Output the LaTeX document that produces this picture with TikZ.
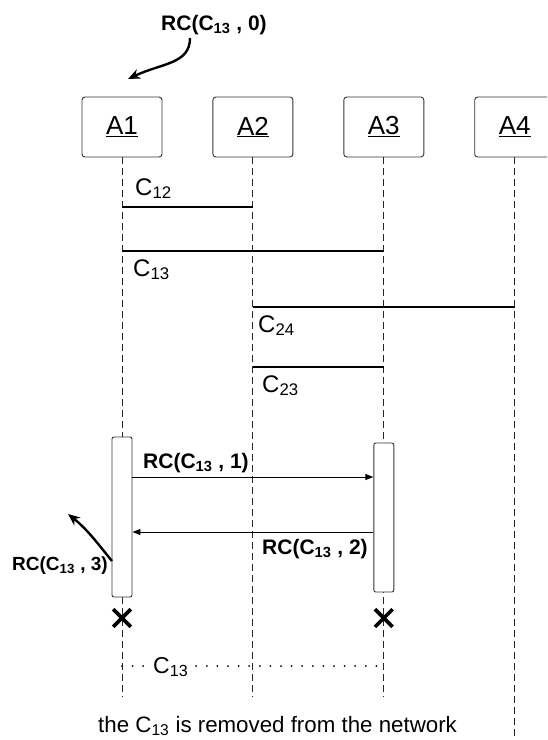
\documentclass[tikz,border=0pt]{standalone}
\usepackage{fontspec}
\setmainfont{Liberation Sans}
\usetikzlibrary{arrows.meta, positioning, shapes.misc}

\begin{document}
\begin{tikzpicture}[
        x=1pt, y=-1pt,
        head/.style={draw=black!80, line width=0.9pt, rounded corners=3pt, minimum width=80pt, minimum height=60pt, inner sep=0pt, font=\fontsize{26}{30}\selectfont},
        life/.style={draw=black!85, dash pattern=on 7pt off 4pt, line width=0.9pt},
        chan/.style={line width=2.8pt},
        clabel/.style={inner sep=0pt, anchor=base west, font=\fontsize{24}{28}\selectfont},
        rclabel/.style={inner sep=0pt, anchor=base west, font=\fontsize{21}{25}\selectfont\bfseries},
        act/.style={draw=black!80, line width=0.9pt, fill=white, rounded corners=2pt, minimum width=20pt, inner sep=0pt},
        msg/.style={line width=0.9pt, -{Triangle[length=8pt, width=6pt]}},
        note/.style={line width=2.4pt, -{Stealth[length=12pt, width=10pt]}},
        kill/.style={draw, cross out, line width=3.6pt, minimum size=14pt, inner sep=0pt},
        dots/.style={line width=2pt, line cap=round, dash pattern=on 0pt off 10.6pt},
        node distance=50pt
        ]
        \clip (0,0) rectangle (547,740);
        % actors
        \node[head] (a1) at (122,127) {\underline{A1}};
        \node[head, right=of a1] (a2) {\underline{A2}};
        \node[head, right=of a2] (a3) {\underline{A3}};
        \node[head, right=of a3] (a4) {\underline{A4}};
        % lifelines
        \coordinate (bot) at (0,697);
        \coordinate (far) at (0,745);
        \draw[life] (a1.south) -- (a1.south |- bot);
        \draw[life] (a2.south) -- (a2.south |- bot);
        \draw[life] (a3.south) -- (a3.south |- bot);
        \draw[life] (a4.south) -- (a4.south |- far);
        % channels
        \coordinate (y12) at (0,207);
        \coordinate (y13) at (0,251);
        \coordinate (y24) at (0,307);
        \coordinate (y23) at (0,367);
        \draw[chan] (a1 |- y12) -- (a2 |- y12);
        \draw[chan] (a1 |- y13) -- (a3 |- y13);
        \draw[chan] (a2 |- y24) -- (a4 |- y24);
        \draw[chan] (a2 |- y23) -- (a3 |- y23);
        \node[clabel] (l12) at (135,195) {C\textsubscript{12}};
        \node[clabel] (l13) at (133,276) {C\textsubscript{13}};
        \node[clabel] (l24) at (258,332) {C\textsubscript{24}};
        \node[clabel] (l23) at (262,392) {C\textsubscript{23}};
        % activations
        \node[act, minimum height=160pt] (b1) at (a1 |- 0,517) {};
        \node[act, minimum height=149pt] (b3) at (a3 |- 0,517.5) {};
        % messages
        \coordinate (m1) at (0,477);
        \coordinate (m2) at (0,532);
        \draw[msg] (b1.east |- m1) -- (b3.west |- m1);
        \draw[msg] (b3.west |- m2) -- (b1.east |- m2);
        \node[rclabel] (rc1) at (143,468) {RC(C\textsubscript{13} , 1)};
        \node[rclabel] (rc2) at (262,554) {RC(C\textsubscript{13} , 2)};
        % notes
        \node[rclabel] (rc0) at (161,30) {RC(C\textsubscript{13} , 0)};
        \coordinate (s0) at (190,38);
        \coordinate (t0) at (128,79);
        \draw[note] (s0) .. controls (190,64) and (162,63) .. (t0);
        \node[rclabel, font=\fontsize{19}{23}\selectfont\bfseries] (rc3) at (12,570) {RC(C\textsubscript{13} , 3)};
        \coordinate (s3) at (112,561);
        \coordinate (t3) at (68,514);
        \draw[note] (s3) .. controls (98,544) and (88,530) .. (t3);
        % removal
        \node[kill] (x1) at (a1 |- 0,618) {};
        \node[kill] (x3) at (a3 |- 0,618) {};
        \coordinate (yd) at (0,666);
        \draw[dots] (a1 |- yd) -- (a3 |- yd);
        \node[clabel, fill=white, inner sep=1pt, font=\fontsize{23}{27}\selectfont] (ld) at (152,673) {C\textsubscript{13}};
        \node[clabel, font=\fontsize{22.3}{26}\selectfont] (gone) at (98,732) {the C\textsubscript{13} is removed from the network};
\end{tikzpicture}
\end{document}
